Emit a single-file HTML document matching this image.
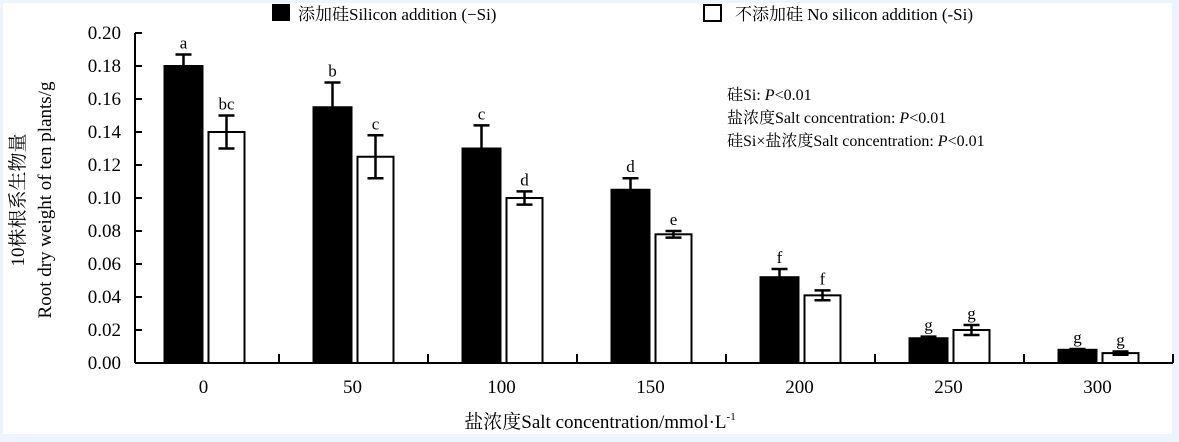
<!DOCTYPE html>
<html><head><meta charset="utf-8"><style>
html,body{margin:0;padding:0;background:#eef4fb;}
svg{display:block;font-family:"Liberation Serif","Noto Serif CJK SC","Noto Sans CJK SC",serif;}
</style></head><body>
<svg id="chart" width="1179" height="442" viewBox="0 0 1179 442" xmlns="http://www.w3.org/2000/svg">
<rect x="3" y="3" width="1169" height="431" fill="#ffffff"/>
<g>
<rect x="272" y="4" width="18" height="17" fill="#000"/>
<text x="298" y="20" font-size="17">添加硅Silicon addition (−Si)</text>
<rect x="704" y="5" width="17" height="16" fill="#fff" stroke="#000" stroke-width="2"/>
<text x="735" y="20" font-size="17">不添加硅 No silicon addition (-Si)</text>
</g>
<g font-size="16">
<text x="727" y="100">硅Si: <tspan font-style="italic">P</tspan>&lt;0.01</text>
<text x="727" y="123">盐浓度Salt concentration: <tspan font-style="italic">P</tspan>&lt;0.01</text>
<text x="727" y="146">硅Si×盐浓度Salt concentration: <tspan font-style="italic">P</tspan>&lt;0.01</text>
</g>
<g font-size="19" text-anchor="middle">
<text transform="translate(24,200) rotate(-90)">10株根系生物量</text>
<text transform="translate(51,200) rotate(-90)">Root dry weight of ten plants/g</text>
</g>
<text x="600" y="428" font-size="19" text-anchor="middle">盐浓度Salt concentration/mmol·L<tspan font-size="11" dy="-8">-1</tspan></text>
<g id="plot"></g>
</svg>
<script>
const categories = ["0","50","100","150","200","250","300"];
const siValues = [0.180,0.155,0.130,0.105,0.052,0.015,0.008];
const siErrors = [0.007,0.015,0.014,0.007,0.005,0.001,0.0005];
const noSiValues = [0.140,0.125,0.100,0.078,0.041,0.020,0.006];
const noSiErrors = [0.010,0.013,0.004,0.002,0.003,0.003,0.001];
const siLetters = ["a","b","c","d","f","g","g"];
const noSiLetters = ["bc","c","d","e","f","g","g"];
const yTicks = [0,0.02,0.04,0.06,0.08,0.10,0.12,0.14,0.16,0.18,0.20];

const NS="http://www.w3.org/2000/svg";
const plot=document.getElementById('plot');
const axisX0=135, axisX1=1173, y0=363, yMax=0.20, yTop=33;
const band=(axisX1-130)/categories.length;
function xCenter(i){return 130+band*(i+0.5);}
function yScale(v){return y0-(v/yMax)*(y0-yTop);}
function mk(tag,attrs){const e=document.createElementNS(NS,tag);for(const k in attrs)e.setAttribute(k,attrs[k]);plot.appendChild(e);return e;}

// axes
let e=mk('line',{x1:axisX0,y1:yTop,x2:axisX0,y2:y0,stroke:'#000','stroke-width':2});


e=mk('line',{x1:axisX0,y1:y0,x2:axisX1,y2:y0,stroke:'#000','stroke-width':2});


yTicks.forEach(t=>{
  const y=yScale(t);
  let l=mk('line',{x1:axisX0,y1:y,x2:axisX0+7,y2:y,stroke:'#000','stroke-width':2});
  
  
  let tx=mk('text',{x:121,y:y+6,'font-size':19,'text-anchor':'end'});
  tx.textContent=t.toFixed(2);
  
  
});
categories.forEach((c,i)=>{
  const bx=130+band*(i+1);
  let l=mk('line',{x1:bx,y1:y0,x2:bx,y2:y0-9,stroke:'#000','stroke-width':2});
  
  
  const cx=xCenter(i);
  let tx=mk('text',{x:cx-1,y:y0+30,'font-size':19,'text-anchor':'middle'});
  tx.textContent=c;
  
  

  function bar(v,err,letter,x,w,fill,name){
    const top=yScale(v);
    let r=mk('rect',{x:x,y:top,width:w,height:y0-top,fill:fill,stroke:'#000','stroke-width':2});
    
    
    const mx=x+w/2, yh=yScale(v+err), yl=yScale(v-err);
    let el=mk('path',{d:`M${mx},${yl}V${yh}M${mx-8},${yh}H${mx+8}M${mx-8},${yl}H${mx+8}`,stroke:'#000','stroke-width':2.5,fill:'none'});
    
    
    let lt=mk('text',{x:mx,y:yh-6,'font-size':17,'text-anchor':'middle'});
    lt.textContent=letter;
    
    
  }
  bar(siValues[i],siErrors[i],siLetters[i],cx-40,38,'#000','bar-si-'+c);
  bar(noSiValues[i],noSiErrors[i],noSiLetters[i],cx+4,36,'#fff','bar-nosi-'+c);
});
</script>
</body></html>
